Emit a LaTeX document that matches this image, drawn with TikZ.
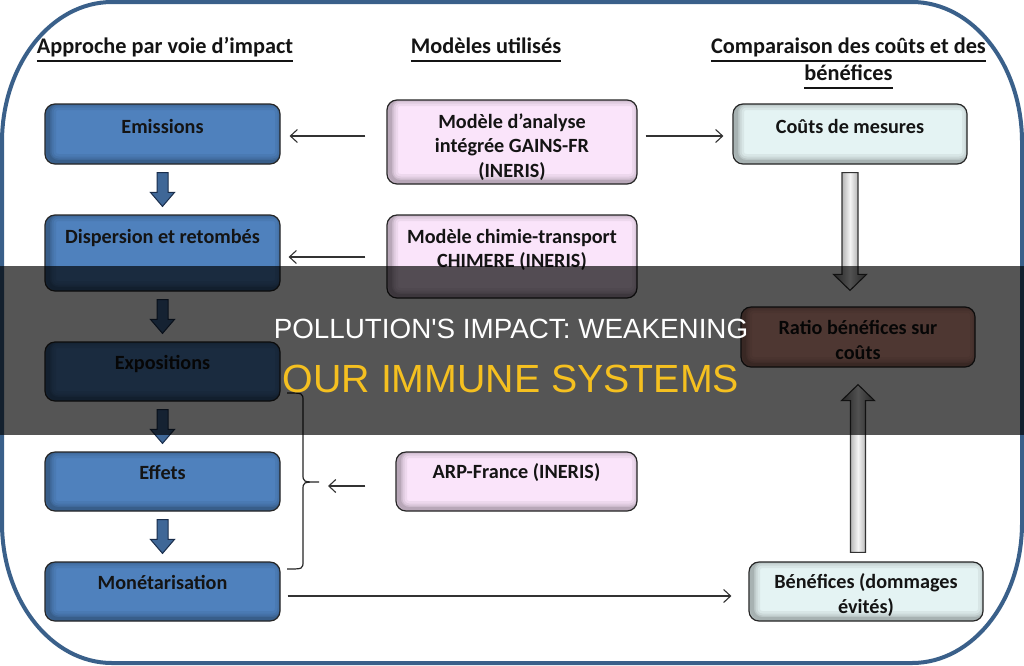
\documentclass[tikz,border=0pt]{standalone}
\usepackage{fontspec}
\setmainfont{Carlito}
\newfontfamily\titlefont{Liberation Sans}
\usetikzlibrary{arrows.meta,calc}
\definecolor{boxblue}{RGB}{79,129,189}
\definecolor{boxpink}{RGB}{250,228,250}
\definecolor{boxcyan}{RGB}{228,243,243}
\definecolor{boxratio}{RGB}{236,165,150}
\definecolor{framecol}{RGB}{58,96,138}
\definecolor{titleyellow}{RGB}{245,192,32}
\definecolor{arrowdark}{RGB}{25,45,75}
\newsavebox\hdbox
\newcommand\ulhead[1]{\sbox\hdbox{#1}\rlap{\rule[-8.8pt]{\wd\hdbox}{1.6pt}}\usebox\hdbox}
% block arrow: style, start, tip, half shaft, half head, signed head length
\newcommand\blockarrow[6]{%
  \path[#1] let \p1=(#2), \p2=(#3) in
    (\x1-#4pt,\y1) -- (\x1+#4pt,\y1) -- (\x1+#4pt,\y2#6pt) -- (\x1+#5pt,\y2#6pt)
    -- (\x1,\y2) -- (\x1-#5pt,\y2#6pt) -- (\x1-#4pt,\y2#6pt) -- cycle;}
\tikzset{
  inshadow/.style={path picture={
    \foreach \w/\o in {16/0.05,11/0.06,7/0.08,4/0.1}{
      \draw[line width=\w pt,black,opacity=\o,rounded corners=10pt]
        ([xshift=3pt,yshift=2pt]path picture bounding box.south west) rectangle
        ([xshift=3pt,yshift=2pt]path picture bounding box.north east);}}},
  box/.style={draw=black!85,line width=1.2pt,rounded corners=10pt,inner sep=0pt,inshadow},
  bluebox/.style={box,fill=boxblue},
  pinkbox/.style={box,fill=boxpink},
  cyanbox/.style={box,fill=boxcyan},
  ratiobox/.style={box,fill=boxratio},
  btxt/.style={inner sep=0pt,align=center,font=\fontsize{20.2}{24.8}\selectfont\bfseries,text=black!92},
  htxt/.style={inner sep=0pt,anchor=base,font=\fontsize{22.3}{27}\selectfont\bfseries,text=black!92},
  thinarrow/.style={draw=black!80,line width=1.1pt,-{Straight Barb[length=7pt,width=13pt]}},
  bluearrow/.style={left color=boxblue!80!black,middle color=boxblue!95!white,right color=boxblue!80!black,draw=arrowdark,line width=1pt},
  grayarrow/.style={left color=black!55,right color=black!55,middle color=black!4,draw=black!80,line width=1.1pt},
  titlea/.style={inner sep=0pt,anchor=base,font=\titlefont\fontsize{27.8}{30}\selectfont,text=white},
  titleb/.style={inner sep=0pt,anchor=base,font=\titlefont\fontsize{39.3}{42}\selectfont,text=titleyellow},
}
\begin{document}
\begin{tikzpicture}[x=1pt,y=-1pt]
\useasboundingbox (0,0) rectangle (1024,665);
\fill[white] (0,0) rectangle (1024,665);
% outer frame
\draw[framecol,line width=4pt]
  (112,2) -- (912,2) .. controls (972.75,2) and (1022,64.7) .. (1022,142)
  -- (1022,523) .. controls (1022,600.3) and (972.75,663) .. (912,663)
  -- (112,663) .. controls (51.25,663) and (2,600.3) .. (2,523)
  -- (2,142) .. controls (2,64.7) and (51.25,2) .. (112,2) -- cycle;
% headers
\node[htxt] (h1) at (165,53) {\ulhead{Approche par voie d'impact}};
\node[htxt] (h2) at (486,53) {\ulhead{Modèles utilisés}};
\node[htxt] (h3) at (848.5,53) {\ulhead{Comparaison des coûts et des}};
\node[htxt] (h4) at (848.5,80) {\ulhead{bénéfices}};
% left column
\node[bluebox,minimum width=235pt,minimum height=60pt] (em) at (162.5,134) {};
\node[bluebox,minimum width=235pt,minimum height=76pt] (disp) at (162.5,253) {};
\node[bluebox,minimum width=235pt,minimum height=59pt] (expo) at (162.5,371.5) {};
\node[bluebox,minimum width=235pt,minimum height=59pt] (eff) at (162.5,481.5) {};
\node[bluebox,minimum width=235pt,minimum height=59pt] (mon) at (162.5,591.5) {};
\node[btxt] (emT) at (162.5,126) {Emissions};
\node[btxt] (dispT) at (162.5,238) {Dispersion et retombés};
\node[btxt] (expoT) at (162.5,364) {Expositions};
\node[btxt] (effT) at (162.5,472) {Effets};
\node[btxt] (monT) at (162.5,582) {Monétarisation};
% middle column
\node[pinkbox,minimum width=250pt,minimum height=84pt] (gains) at (512,142) {};
\node[pinkbox,minimum width=250pt,minimum height=83pt] (chim) at (512,256.5) {};
\node[pinkbox,minimum width=241pt,minimum height=59pt] (arp) at (516.5,481.5) {};
\node[btxt] (gainsT) at (512,147) {Modèle d'analyse\\intégrée GAINS-FR\\(INERIS)};
\node[btxt] (chimT) at (512,250) {Modèle chimie-transport\\CHIMERE (INERIS)};
\node[btxt] (arpT) at (516.5,473) {ARP-France (INERIS)};
% right column
\node[cyanbox,minimum width=234pt,minimum height=60pt] (cout) at (850,134) {};
\node[ratiobox,minimum width=234pt,minimum height=60pt] (ratio) at (858,337) {};
\node[cyanbox,minimum width=234pt,minimum height=59pt] (benef) at (866,591.5) {};
\node[btxt] (coutT) at (850,126) {Coûts de mesures};
\node[btxt] (ratioT) at (858,340) {Ratio bénéfices sur\\coûts};
\node[btxt] (benefT) at (866,595) {Bénéfices (dommages\\évités)};
% blue block arrows
\blockarrow{bluearrow}{$(em.south)!8pt!(disp.north)$}{$(disp.north)!8pt!(em.south)$}{5.5}{12}{+14}
\blockarrow{bluearrow}{$(disp.south)!8pt!(expo.north)$}{$(expo.north)!8pt!(disp.south)$}{5.5}{12}{+14}
\blockarrow{bluearrow}{$(expo.south)!8pt!(eff.north)$}{$(eff.north)!8pt!(expo.south)$}{5.5}{12}{+14}
\blockarrow{bluearrow}{$(eff.south)!8pt!(mon.north)$}{$(mon.north)!8pt!(eff.south)$}{5.5}{12}{+14}
% gray block arrows
\blockarrow{grayarrow}{$(cout.south)+(0,8)$}{$(cout.south |- ratio.north)+(0,-16)$}{8}{16.5}{+16}
\blockarrow{grayarrow}{$(ratio.south |- benef.north)+(0,-9)$}{$(ratio.south)+(0,17)$}{7.5}{16.5}{-16}
% thin arrows
\draw[thinarrow] ($(gains.west |- em.east)+(-21,2)$) -- ($(em.east)+(9,2)$);
\draw[thinarrow] ($(gains.east |- cout.west)+(8,2)$) -- ($(cout.west)+(-9,2)$);
\draw[thinarrow] ($(chim.west)+(-21,0.5)$) -- ($(chim.west -| disp.east)+(8,0.5)$);
\coordinate (btip) at (328,486);
\draw[thinarrow] ($(arp.west)+(-30,4.5)$) -- (btip);
\draw[thinarrow] ($(mon.east)+(7,4.5)$) -- ($(mon.east -| benef.west)+(-17,4.5)$);
% brace
\draw[line width=1.2pt,black!85] (287,393) .. controls (303,393) .. (303,401) -- (303,474)
  .. controls (303,482) .. (319,482) .. controls (303,482) .. (303,490) -- (303,561)
  .. controls (303,569) .. (287,569);
% overlay band and title
\fill[black,opacity=0.667] (0,266) rectangle (1024,435);
\node[titlea] (t1) at (511,338) {POLLUTION\textquotesingle S IMPACT: WEAKENING};
\node[titleb] (t2) at (511,392) {OUR IMMUNE SYSTEMS};
\end{tikzpicture}
\end{document}
